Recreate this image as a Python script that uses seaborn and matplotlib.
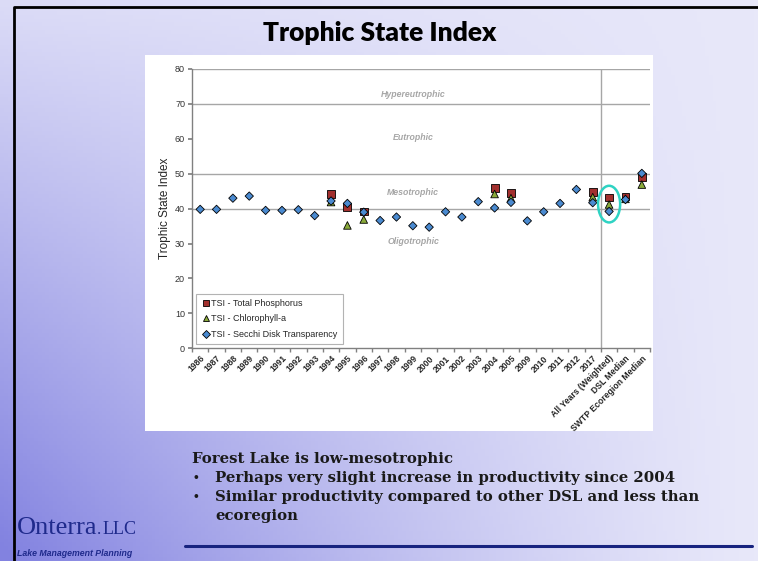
import numpy as np
import pandas as pd
import matplotlib.pyplot as plt
import seaborn as sns
from matplotlib.lines import Line2D
from matplotlib.patches import Rectangle, Ellipse

# ---- data ----
categories = ['1986', '1987', '1988', '1989', '1990', '1991', '1992', '1993',
              '1994', '1995', '1996', '1997', '1998', '1999', '2000', '2001',
              '2002', '2003', '2004', '2005', '2009', '2010', '2011', '2012',
              '2017', 'All Years (Weighted)', 'DSL Median', 'SWTP Ecoregion Median']
nan = np.nan
tsi_tp = [nan, nan, nan, nan, nan, nan, nan, nan,
          44.1, 40.5, 39.2, nan, nan, nan, nan, nan,
          nan, nan, 45.8, 44.4, nan, nan, nan, nan,
          44.7, 43.2, 43.5, 49.0]
tsi_chl = [nan, nan, nan, nan, nan, nan, nan, nan,
           41.9, 35.2, 36.9, nan, nan, nan, nan, nan,
           nan, nan, 44.2, 43.0, nan, nan, nan, nan,
           43.3, 41.2, 42.8, 46.9]
tsi_secchi = [39.8, 39.8, 43.0, 43.6, 39.5, 39.5, 39.7, 38.0,
              42.2, 41.5, 39.0, 36.6, 37.6, 35.1, 34.7, 39.1,
              37.6, 42.0, 40.2, 41.8, 36.5, 39.1, 41.5, 45.5,
              41.7, 39.2, 42.6, 50.1]
series_names = ['TSI - Total Phosphorus', 'TSI - Chlorophyll-a', 'TSI - Secchi Disk Transparency']
zone_names = ['Hypereutrophic', 'Eutrophic', 'Mesotrophic', 'Oligotrophic']
zone_label_y = [72.8, 60.4, 44.7, 30.7]
zone_lines = [40, 50, 70, 80]
headline = 'Forest Lake is low-mesotrophic'
bullets = ['Perhaps very slight increase in productivity since 2004',
           'Similar productivity compared to other DSL and less than\necoregion']

W, H = 758, 561


def fx(x):
    return x / W


def fy(y):
    return 1 - y / H


def main():
    sns.set_theme(style='white')
    plt.rcParams['font.family'] = ['Liberation Sans', 'DejaVu Sans']

    fig = plt.figure(figsize=(W / 100, H / 100), dpi=100)

    # slide background gradient
    bg = fig.add_axes([0, 0, 1, 1])
    u = np.linspace(0, 1, 200)[None, :]
    v = np.linspace(0, 1, 150)[:, None]
    dark = np.clip(0.12 * (1 - u) + 0.9 * (1 - v) * (1 - u) ** 1.3, 0, 1)
    light = np.array([0.91, 0.91, 0.98])
    deep = np.array([0.51, 0.51, 0.88])
    grad = light[None, None, :] * (1 - dark[..., None]) + deep[None, None, :] * dark[..., None]
    bg.imshow(grad, extent=[0, 1, 0, 1], aspect='auto', origin='lower')
    bg.set_xlim(0, 1)
    bg.set_ylim(0, 1)
    bg.axis('off')

    # slide frame + white chart panel
    bg.add_line(Line2D([fx(14), fx(14), fx(758)], [fy(561), fy(7), fy(7)], color='black', lw=2))
    bg.add_patch(Rectangle((fx(145), fy(431)), fx(653) - fx(145), fy(55) - fy(431),
                           facecolor='white', edgecolor='none'))
    bg.add_line(Line2D([fx(185), fx(752)], [fy(546), fy(546)], color='#17237f', lw=2.2))

    fig.text(fx(380), fy(33), 'Trophic State Index', ha='center', va='center',
             fontsize=19, fontweight='heavy', family='Lato', color='black')

    # bottom text
    tkw = dict(fontsize=10.7, fontweight='bold', family='DejaVu Serif', color='#1a1a1a')
    fig.text(fx(192), fy(459), headline, ha='left', va='center', **tkw)
    fig.text(fx(193), fy(478), '\u2022', ha='left', va='center', fontsize=10, color='#1a1a1a')
    fig.text(fx(215), fy(478), bullets[0], ha='left', va='center', **tkw)
    fig.text(fx(193), fy(497), '\u2022', ha='left', va='center', fontsize=10, color='#1a1a1a')
    line_a, line_b = bullets[1].split('\n')
    fig.text(fx(215), fy(497), line_a, ha='left', va='center', **tkw)
    fig.text(fx(215), fy(516), line_b, ha='left', va='center', **tkw)

    # logo
    fig.text(fx(17), fy(534), 'Onterra', ha='left', va='baseline', fontsize=19,
             family='Liberation Serif', color='#1f2a8c')
    fig.text(fx(97), fy(534), '.', ha='left', va='baseline', fontsize=12,
             family='Liberation Serif', color='#1f2a8c')
    fig.text(fx(103), fy(534), 'LLC', ha='left', va='baseline', fontsize=13,
             family='Liberation Serif', color='#1f2a8c')
    fig.text(fx(17), fy(553), 'Lake Management Planning', ha='left', va='center', fontsize=6.3,
             fontweight='bold', style='italic', color='#1f2a8c')

    # ---- chart ----
    ax = fig.add_axes([fx(192), fy(348.3), fx(650) - fx(192), fy(69) - fy(348.3)])
    ax.patch.set_alpha(0)

    rows = []
    for name, vals in zip(series_names, [tsi_tp, tsi_chl, tsi_secchi]):
        for cat, val in zip(categories, vals):
            rows.append({'category': cat, 'series': name, 'value': val})
    df = pd.DataFrame(rows).dropna()
    df['x'] = pd.Categorical(df['category'], categories=categories).codes

    palette = dict(zip(series_names, ['#a2302e', '#8aaa3a', '#4a8ad0']))
    markers = dict(zip(series_names, ['s', '^', 'D']))
    sizes = dict(zip(series_names, [32, 30, 18]))

    sns.scatterplot(data=df, x='x', y='value', hue='series', style='series', size='series',
                    hue_order=series_names, style_order=series_names, size_order=series_names,
                    palette=palette, markers=markers, sizes=sizes,
                    edgecolor='black', linewidth=0.6, legend=False, ax=ax, zorder=4)

    for yv in zone_lines:
        ax.axhline(yv, color='#a6a6a6', lw=1, zorder=1)
    ax.axvline(24.5, color='#a6a6a6', lw=1, zorder=1)

    for name, yv in zip(zone_names, zone_label_y):
        ax.text(0.483, yv, name, transform=ax.get_yaxis_transform(), ha='center', va='center',
                fontsize=6.3, fontweight='bold', style='italic', color='#a6a6a6')

    ax.add_patch(Ellipse((25, 41.3), 1.35, 10.5, fill=False, edgecolor='#2fd3c3', lw=1.8, zorder=5))

    ax.set_xlim(-0.5, len(categories) - 0.5)
    ax.set_ylim(0, 80)
    ax.set_yticks(range(0, 81, 10))
    ax.set_xticks(range(len(categories)))
    ax.set_xticklabels(categories, rotation=45, ha='right', rotation_mode='anchor',
                       fontsize=6.2, fontweight='bold')
    ax.set_xticks(np.arange(-0.5, len(categories), 1), minor=True)
    ax.tick_params(axis='x', which='major', length=0, pad=4)
    ax.tick_params(axis='x', which='minor', length=3, color='#808080', direction='out', bottom=True)
    ax.tick_params(axis='y', length=3, color='#808080', direction='out', left=True,
                   labelsize=6.5, labelcolor='#333333', pad=2)
    ax.set_xlabel('')
    ax.set_ylabel('Trophic State Index', fontsize=8.5, labelpad=3)
    for s in ['top', 'right']:
        ax.spines[s].set_visible(False)
    for s in ['left', 'bottom']:
        ax.spines[s].set_color('#808080')
        ax.spines[s].set_linewidth(1)

    handles = [Line2D([], [], linestyle='none', marker=markers[n], markersize=5 if n != series_names[2] else 4,
                      markerfacecolor=palette[n], markeredgecolor='black', markeredgewidth=0.6)
               for n in series_names]
    leg = ax.legend(handles, series_names, loc='lower left', bbox_to_anchor=(0.008, 0.015),
                    borderaxespad=0, fontsize=6.5, frameon=True, fancybox=False,
                    handletextpad=0.1, handlelength=1, labelspacing=0.7, borderpad=0.6)
    leg.get_frame().set_edgecolor('#a0a0a0')
    leg.get_frame().set_linewidth(0.8)

    fig.savefig('out.png', dpi=100)
    plt.close(fig)


if __name__ == '__main__':
    main()
